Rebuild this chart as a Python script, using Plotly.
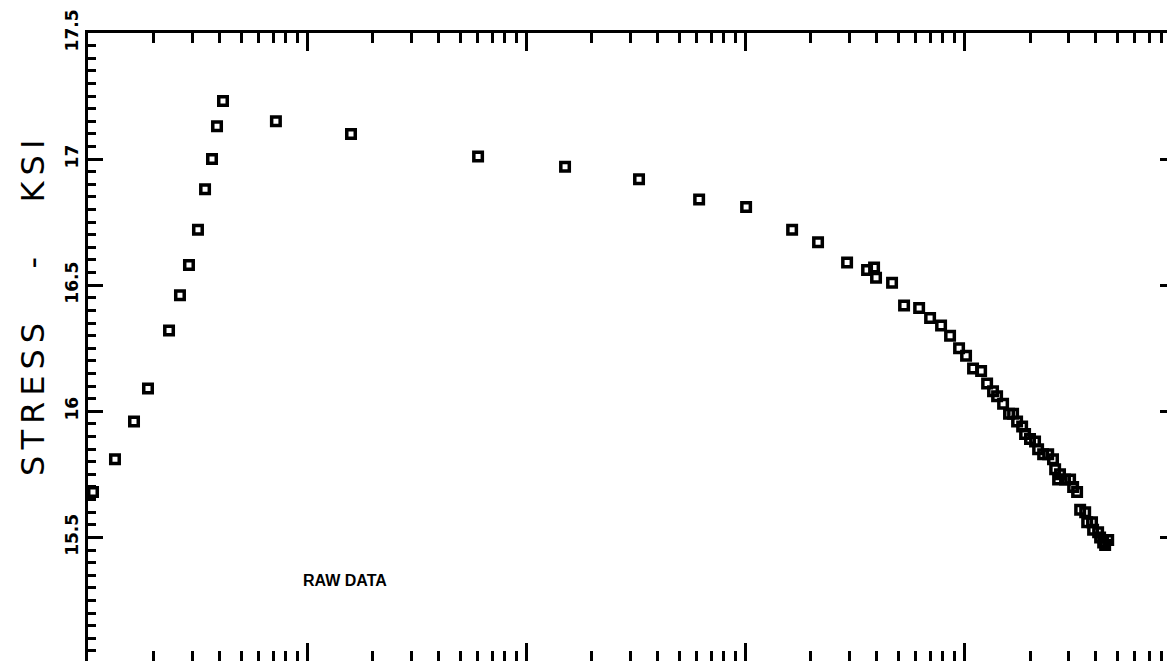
import plotly.graph_objects as go

# raw data (time on a log axis, stress in ksi)
time_vals = [1.054, 1.328, 1.622, 1.879, 2.344, 2.630, 2.891, 3.178, 3.423, 3.683,
             3.882, 4.134, 7.21, 15.88, 60.4, 150.7, 328, 617, 1011, 1640,
             2154, 2923, 3606, 3882, 3963, 4690, 5321, 6234, 6995, 7852,
             8630, 9487, 10210, 10990, 11960, 12740, 13560, 14150, 15070, 16040,
             16740, 17460, 18410, 18990, 20000, 21090, 21780, 22960, 24210, 25470,
             26050, 27420, 26870, 28910, 30480, 31470, 32810, 33880, 35720, 36480,
             38390, 38820, 40930, 41790, 43150, 44060, 45500]
stress_ksi = [15.68, 15.81, 15.96, 16.09, 16.32, 16.46, 16.58, 16.72, 16.88, 17.00,
              17.13, 17.23, 17.15, 17.10, 17.01, 16.97, 16.92, 16.84, 16.81, 16.72,
              16.67, 16.59, 16.56, 16.57, 16.53, 16.51, 16.42, 16.41, 16.37, 16.34,
              16.30, 16.25, 16.22, 16.17, 16.16, 16.11, 16.08, 16.06, 16.03, 15.99,
              15.99, 15.96, 15.94, 15.91, 15.89, 15.88, 15.85, 15.83, 15.83, 15.81,
              15.77, 15.75, 15.73, 15.73, 15.73, 15.70, 15.68, 15.61, 15.60, 15.56,
              15.56, 15.53, 15.52, 15.50, 15.48, 15.47, 15.49]

y_ticks = [15.5, 16, 16.5, 17, 17.5]
x_minor = [m * 10 ** d for d in range(0, 5) for m in range(2, 10)]

fig = go.Figure()
fig.add_trace(go.Scatter(
    x=time_vals, y=stress_ksi, mode="markers",
    marker=dict(symbol="square-open", size=8.5, color="black",
                line=dict(width=3.5, color="black")),
    cliponaxis=False, showlegend=False,
))

axis_common = dict(showline=True, linecolor="black", linewidth=3, mirror="allticks",
                   ticks="inside", tickcolor="black", showgrid=False, zeroline=False,
                   automargin=False)

fig.update_xaxes(type="log", range=[0, 4.963], dtick=1, ticklen=18, tickwidth=2.5,
                 showticklabels=False,
                 minor=dict(tickvals=x_minor, ticks="inside", ticklen=10,
                            tickwidth=2.5, tickcolor="black"),
                 **axis_common)
fig.update_yaxes(range=[15.01, 17.5], tickvals=y_ticks, ticklen=15, tickwidth=2.5,
                 tickangle=-90, ticklabelstandoff=0,
                 tickfont=dict(family="DejaVu Sans", size=17, color="black", weight="bold"),
                 minor=dict(dtick=0.05, ticks="inside", ticklen=8,
                            tickwidth=2.5, tickcolor="black"),
                 **axis_common)

# the page body has an 8px margin, so the figure is sized to end at the window edge
fig.add_annotation(text='<span style="letter-spacing:6px">STRESS   -   KSI</span>',
                   xref="paper", yref="paper",
                   x=-0.0506, y=0.567, xanchor="center", yanchor="middle",
                   textangle=-90, showarrow=False,
                   font=dict(family="DejaVu Sans", size=32, color="black"))
fig.add_annotation(text="RAW DATA", xref="paper", yref="paper",
                   x=0.2364, y=0.1274, xanchor="center", yanchor="middle",
                   showarrow=False,
                   font=dict(family="Liberation Sans", size=16, color="black", weight="bold"))

fig.update_layout(template="none", width=1167, height=653,
                  margin=dict(l=80, r=0, t=25, b=0, autoexpand=False),
                  paper_bgcolor="white", plot_bgcolor="white")

fig.write_html("out.html")
